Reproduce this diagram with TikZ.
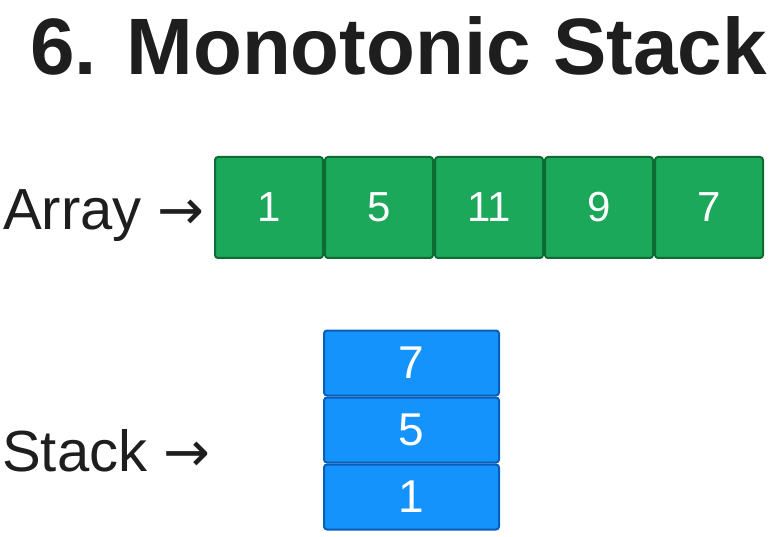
\documentclass[tikz,border=0pt]{standalone}
\usepackage{fontspec}
\setmainfont{Liberation Sans}
\newfontfamily\arrowfont{DejaVu Sans}
\usetikzlibrary{positioning}
\definecolor{cellgreen}{HTML}{1BA85A}
\definecolor{cellgreenline}{HTML}{0E6B34}
\definecolor{cellblue}{HTML}{1493FC}
\definecolor{cellblueline}{HTML}{0A5DB8}
\definecolor{inkgray}{HTML}{1E1E1E}

\begin{document}
\begin{tikzpicture}[x=1pt,y=-1pt,
  arrcell/.style={draw=cellgreenline,fill=cellgreen,line width=2pt,rounded corners=3pt,
    minimum width=108pt,minimum height=101pt,inner sep=0pt,text=white,
    font=\fontsize{42}{42}\selectfont},
  stkcell/.style={draw=cellblueline,fill=cellblue,line width=2pt,rounded corners=3pt,
    minimum width=175pt,minimum height=65pt,inner sep=0pt,text=white,
    font=\fontsize{46}{46}\selectfont},
  lbl/.style={anchor=base west,inner sep=0pt,text=inkgray,font=\fontsize{58}{58}\selectfont}]
  \useasboundingbox (0,0) rectangle (771,537);

  \node (title) [anchor=base west,inner sep=0pt,text=inkgray,
    font=\fontsize{80}{80}\selectfont\bfseries] at (30,75) {6. Monotonic Stack};

  % array row
  \node (arrlabel) [lbl] at (3,230) {Array {\arrowfont\fontsize{56}{56}\selectfont →}};
  \node (a1) [arrcell] at (269,207.5) {1};
  \node (a2) [arrcell,right=0pt of a1] {5};
  \node (a3) [arrcell,right=0pt of a2] {11};
  \node (a4) [arrcell,right=0pt of a3] {9};
  \node (a5) [arrcell,right=0pt of a4] {7};

  % stack, top first
  \node (stklabel) [lbl] at (2,471) {Stack {\arrowfont\fontsize{56}{56}\selectfont →}};
  \node (s3) [stkcell] at (411.5,363) {7};
  \node (s2) [stkcell,below=0pt of s3] {5};
  \node (s1) [stkcell,below=0pt of s2] {1};
\end{tikzpicture}
\end{document}
